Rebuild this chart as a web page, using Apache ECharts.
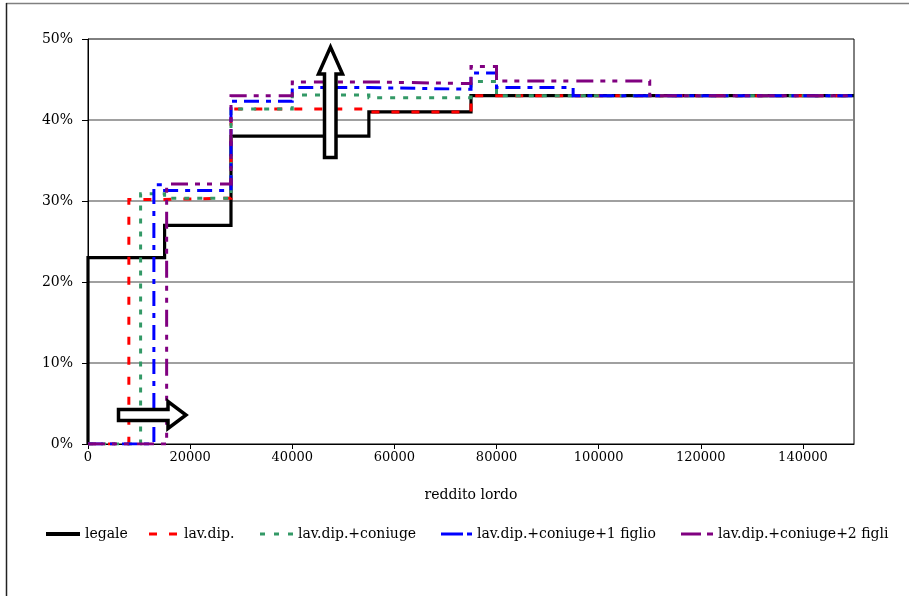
<!DOCTYPE html>
<html><head><meta charset="utf-8">
<script src="https://cdn.jsdelivr.net/npm/echarts@6/dist/echarts.min.js"></script>
<style>html,body{margin:0;padding:0;background:#fff}#c{width:909px;height:596px}</style>
</head><body><div id="c"></div>
<script>
// Tick labels
const xTicks = [0, 20000, 40000, 60000, 80000, 100000, 120000, 140000];
const yTicks = [0, 10, 20, 30, 40, 50];
const seriesNames = ['legale', 'lav.dip.', 'lav.dip.+coniuge', 'lav.dip.+coniuge+1 figlio', 'lav.dip.+coniuge+2 figli'];

// Step breakpoints (reddito lordo) and marginal rates (%) between them
const legaleBreaks = [0, 15000, 28000, 55000, 75000, 150000];
const legaleRates  = [23, 27, 38, 41, 43];
const dipBreaks = [8000, 15000, 28000, 55000, 75000, 150000];
const dipRates  = [30.2, 30.35, 41.35, 41, 43];
const conBreaks = [10300, 15000, 28000, 40000, 55000, 75000, 80000, 150000];
const conRates  = [30.9, 30.35, 41.35, 43.1, 42.75, 44.75, 43];
const fig1Breaks = [12900, 15000, 28000, 40000, 55000, 75000, 80000, 95000, 150000];
const fig1Rates  = [32.0, 31.3, 42.3, 44.0, 43.8, 45.8, 44.0, 43];
const fig2Breaks = [15400, 28000, 40000, 55000, 75000, 80000, 110000, 150000];
const fig2Rates  = [32.1, 43.0, 44.7, 44.5, 46.6, 44.8, 43];

function stepData(breaks, rates) {
  const pts = [[0, 0], [breaks[0], 0]];
  for (let i = 0; i < rates.length; i++) {
    pts.push([breaks[i], rates[i]]);
    pts.push([breaks[i + 1], rates[i]]);
  }
  return pts;
}

const styles = [
  {color: '#000000', type: 'solid', width: 3.2},
  {color: '#FF0000', type: [8, 12], width: 3},
  {color: '#339966', type: [5, 8], width: 3},
  {color: '#0000FF', type: [15, 7, 5, 7], width: 3},
  {color: '#800080', type: [17, 7, 5, 7, 5, 8], width: 3}
];
const datasets = [
  stepData(legaleBreaks, legaleRates),
  stepData(dipBreaks, dipRates),
  stepData(conBreaks, conRates),
  stepData(fig1Breaks, fig1Rates),
  stepData(fig2Breaks, fig2Rates)
];

const serif = 'DejaVu Serif';
// legend icons (drawn dash samples), widths and placement
const legendIcons = [
  'path://M0,0h34v4h-34z',
  'path://M0,0h8v3h-8zM20,0h8v3h-8z',
  'path://M0,0h5v3h-5zM14,0h5v3h-5zM28,0h5v3h-5z',
  'path://M0,0h22v3h-22zM26,0h5v3h-5z',
  'path://M0,0h20v3h-20zM26,0h6v3h-6z'
];
const legendIconW = [34, 28, 33, 31, 32];
const legendIconH = [4, 3, 3, 3, 3];
const legendLefts = [41, 144, 255, 436, 676];
const legendPadL = [0, 2, 0, 0, 0];

const series = seriesNames.map((n, i) => ({
  name: n, type: 'line', data: datasets[i], showSymbol: false, symbol: 'none',
  animation: false, z: 2 + i,
  lineStyle: {color: styles[i].color, width: styles[i].width, type: styles[i].type, cap: 'butt', join: 'miter'},
  itemStyle: {color: styles[i].color}
}));

const legends = seriesNames.map((n, i) => ({
  show: true,
  data: [{name: n, icon: legendIcons[i]}],
  orient: 'horizontal',
  left: legendLefts[i], top: 522, itemWidth: legendIconW[i], itemHeight: legendIconH[i], itemGap: 0,
  itemStyle: {color: styles[i].color, borderWidth: 0},
  textStyle: {fontFamily: serif, fontSize: 14, color: '#000', padding: [0, 0, 0, legendPadL[i]]},
  selectedMode: false
}));

const chart = echarts.init(document.getElementById('c'), null, {renderer: 'canvas'});
chart.setOption({
  animation: false,
  backgroundColor: '#fff',
  grid: {left: 88, right: 55, top: 39, bottom: 152, show: true, borderColor: '#000', borderWidth: 1, backgroundColor: 'transparent'},
  legend: legends,
  xAxis: {
    type: 'value', min: 0, max: 150000, interval: 20000,
    name: 'reddito lordo', nameLocation: 'middle', nameGap: 44,
    nameTextStyle: {fontFamily: serif, fontSize: 14, color: '#000'},
    axisLine: {show: true, onZero: false, lineStyle: {color: '#000', width: 1}},
    axisTick: {show: true, length: 5, lineStyle: {color: '#000'}, customValues: xTicks},
    axisLabel: {fontFamily: serif, fontSize: 13, color: '#000', margin: 7, customValues: xTicks, formatter: v => String(v)},
    splitLine: {show: false}
  },
  yAxis: {
    type: 'value', min: 0, max: 50, interval: 10,
    axisLine: {show: true, lineStyle: {color: '#000', width: 1}},
    axisTick: {show: true, length: 6, lineStyle: {color: '#000'}},
    axisLabel: {fontFamily: serif, fontSize: 14, color: '#000', margin: 15, formatter: v => v + '%'},
    splitLine: {show: true, showMinLine: false, showMaxLine: false, lineStyle: {color: '#808080', width: 1.5}}
  },
  series: series,
  graphic: [
    {type: 'line', shape: {x1: 6, y1: 3.5, x2: 909, y2: 3.5}, style: {stroke: '#808080', lineWidth: 1.5}, z: 100},
    {type: 'line', shape: {x1: 6.5, y1: 3, x2: 6.5, y2: 596}, style: {stroke: '#222', lineWidth: 1.5}, z: 100},
    {type: 'polygon', z: 100, shape: {points: [[324.5, 157.5], [324.5, 74], [318.5, 74], [330.5, 47], [342.5, 74], [336, 74], [336, 157.5]]},
      style: {fill: '#fff', stroke: '#000', lineWidth: 3.5, lineJoin: 'miter'}},
    {type: 'polygon', z: 100, shape: {points: [[118.5, 409.5], [168, 409.5], [168, 401.5], [186, 415], [168, 428.5], [168, 420.5], [118.5, 420.5]]},
      style: {fill: '#fff', stroke: '#000', lineWidth: 3.5, lineJoin: 'miter'}}
  ]
});
</script>
</body></html>
